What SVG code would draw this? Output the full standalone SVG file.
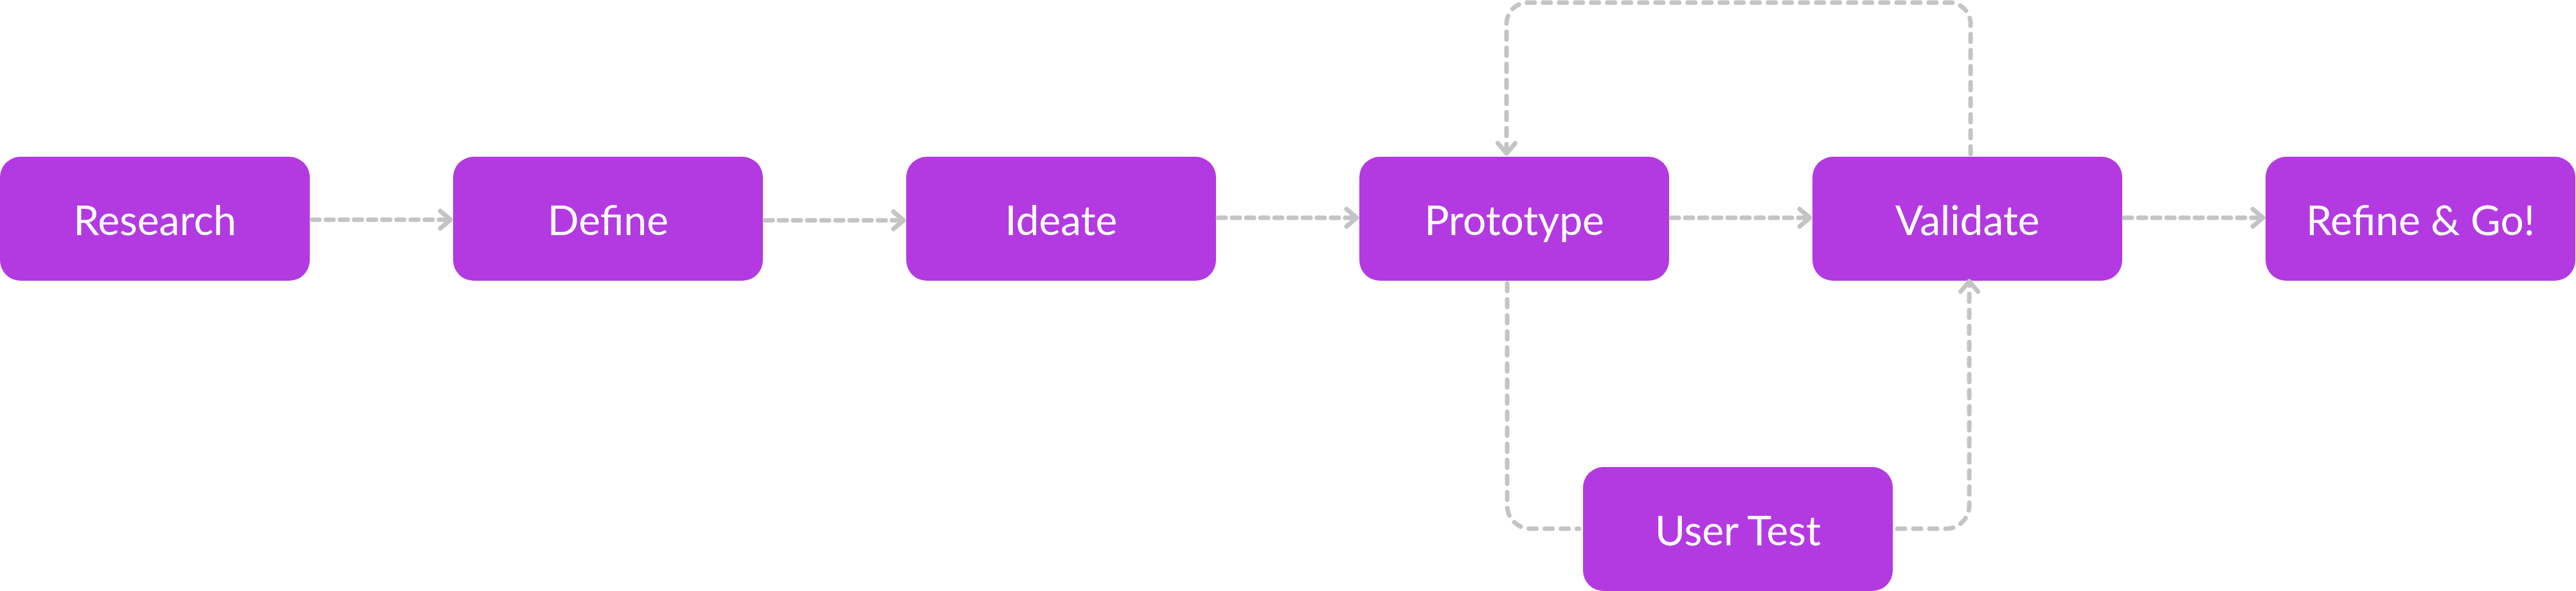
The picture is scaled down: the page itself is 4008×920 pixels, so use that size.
<svg xmlns="http://www.w3.org/2000/svg" width="4008" height="920" viewBox="0 0 4008 920">
  <style>
    .box { fill: #B33AE0; }
    .lbl { font-family: Lato, "Noto Sans", sans-serif; font-size: 64px; fill: #FFFFFF; text-anchor: middle; }
    .conn { fill: none; stroke: #C4C4C4; stroke-width: 7; stroke-linecap: round; stroke-linejoin: round; }
    .h { stroke-dasharray: 12 10; }
    .loop { stroke-dasharray: 12 13; }
  </style>
  <defs>
    <marker id="chev" markerUnits="userSpaceOnUse" orient="auto" refX="0" refY="0" markerWidth="40" markerHeight="40" overflow="visible">
      <path d="M-16,-13.5 L0,0 L-16,13.5" fill="none" stroke="#C4C4C4" stroke-width="7" stroke-linecap="round" stroke-linejoin="round"/>
    </marker>
  </defs>
  <rect width="4008" height="920" fill="#FFFFFF"/>

  <g id="node-research">
    <rect class="box" x="0" y="244" width="482" height="193" rx="32"/>
    <text class="lbl" x="241" y="366">Research</text>
  </g>
  <g id="node-define">
    <rect class="box" x="705" y="244" width="482" height="193" rx="32"/>
    <text class="lbl" x="946" y="366">Define</text>
  </g>
  <g id="node-ideate">
    <rect class="box" x="1410" y="244" width="482" height="193" rx="32"/>
    <text class="lbl" x="1651" y="366">Ideate</text>
  </g>
  <g id="node-prototype">
    <rect class="box" x="2115" y="244" width="482" height="193" rx="32"/>
    <text class="lbl" x="2356" y="366">Prototype</text>
  </g>
  <g id="node-validate">
    <rect class="box" x="2820" y="244" width="482" height="193" rx="32"/>
    <text class="lbl" x="3061" y="366">Validate</text>
  </g>
  <g id="node-refine">
    <rect class="box" x="3525" y="244" width="482" height="193" rx="32"/>
    <text class="lbl" x="3766" y="366">Refine &amp; Go!</text>
  </g>
  <g id="node-usertest">
    <rect class="box" x="2463" y="727" width="482" height="193" rx="32"/>
    <text class="lbl" x="2704" y="849">User Test</text>
  </g>

  <g id="connectors">
    <path class="conn h" d="M485 342 H701" marker-end="url(#chev)"/>
    <path class="conn h" d="M1190 343 H1406" marker-end="url(#chev)"/>
    <path class="conn h" d="M1895 339 H2111" marker-end="url(#chev)"/>
    <path class="conn h" d="M2600 339 H2816" marker-end="url(#chev)"/>
    <path class="conn h" d="M3305 339 H3521" marker-end="url(#chev)"/>
    <path class="conn loop" d="M3066 240 V36 A33 33 0 0 0 3033 4 H2377 A33 33 0 0 0 2344 36 V239" marker-end="url(#chev)"/>
    <path class="conn loop" d="M2345 441 V787 A36 36 0 0 0 2381 823 H2457"/>
    <path class="conn loop" d="M2952 823 H3028 A36 36 0 0 0 3064 787 V438" marker-end="url(#chev)"/>
  </g>
</svg>
